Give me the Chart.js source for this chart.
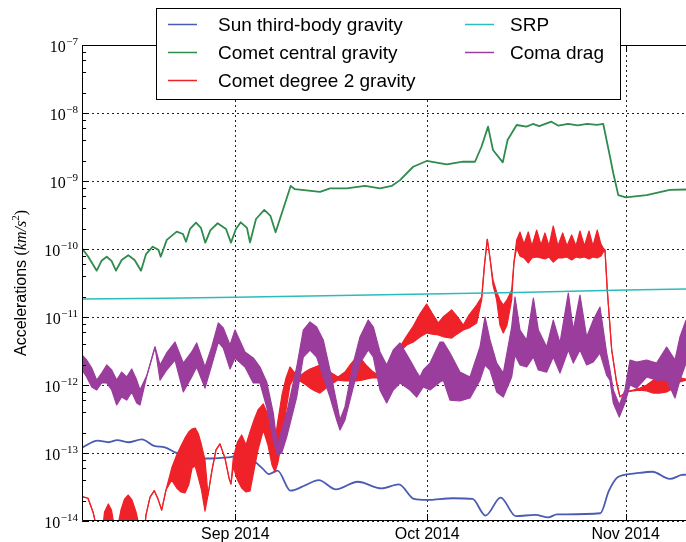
<!DOCTYPE html>
<html>
<head>
<meta charset="utf-8">
<script src="https://cdn.jsdelivr.net/npm/chart.js@4.4.0/dist/chart.umd.min.js"></script>
<style>
html, body { margin: 0; padding: 0; background: #fff; }
canvas { display: block; }
</style>
</head>
<body>
<canvas id="chart" width="686" height="542"></canvas>
<script>
// x values are days counted from 1 Aug 2014
const monthTicks = [31, 61, 92]
const monthLabels = ['Sep 2014', 'Oct 2014', 'Nov 2014']
const decadeExps = [-14, -13, -12, -11, -10, -9, -8, -7]
const minorSubs = [2, 4, 6, 8]

const blueDays = [7.05, 9.5, 11.21, 12.55, 14.25, 16.41, 18.32, 20.0, 21.69, 23.72, 27.11, 29.82, 31.18, 33.53, 35.24, 36.25, 37.6, 39.63, 42.0, 44.03, 46.74, 50.13, 53.85, 56.57, 58.93, 60.95, 65.02, 68.07, 70.1, 72.47, 74.83, 77.88, 79.91, 81.27, 88.03, 89.39, 90.75, 93.46, 96.18, 98.88, 100.77, 101.43]
const blueVals = [1.2e-13, 1.52e-13, 1.44e-13, 1.55e-13, 1.44e-13, 1.59e-13, 1.27e-13, 1.21e-13, 1.01e-13, 8.8e-14, 8.3e-14, 8.6e-14, 9.0e-14, 8.1e-14, 5.95e-14, 4.9e-14, 5.5e-14, 2.79e-14, 3.38e-14, 4.0e-14, 2.92e-14, 3.78e-14, 3.02e-14, 3.46e-14, 2.11e-14, 2.04e-14, 2.16e-14, 2.11e-14, 1.2e-14, 2.2e-14, 1.18e-14, 1.23e-14, 1.13e-14, 1.25e-14, 1.3e-14, 2.79e-14, 4.39e-14, 5.0e-14, 5.3e-14, 4.15e-14, 4.75e-14, 4.8e-14]

const greenDays = [7.05, 8.03, 9.35, 10.1, 10.91, 11.66, 12.36, 13.25, 14.28, 15.27, 16.27, 17.05, 18.1, 19.0, 19.35, 20.3, 21.85, 22.83, 23.3, 23.93, 24.86, 25.64, 26.32, 27.12, 28.25, 29.55, 30.33, 31.1, 31.85, 32.83, 33.3, 34.24, 35.53, 36.5, 37.3, 39.66, 40.33, 44.24, 45.8, 48.41, 51.27, 53.61, 55.44, 56.74, 58.8, 60.9, 64.04, 66.6, 68.46, 69.47, 70.5, 71.27, 72.8, 73.55, 74.97, 76.5, 77.5, 78.5, 80.4, 81.5, 83.0, 84.5, 86.0, 87.5, 88.5, 89.55, 90.07, 90.85, 92.0, 95.28, 98.9, 101.43]
const greenVals = [1.02e-10, 7.7e-11, 4.8e-11, 6.7e-11, 7.7e-11, 6.7e-11, 4.8e-11, 6.9e-11, 8.1e-11, 6.9e-11, 4.8e-11, 8.4e-11, 1.08e-10, 9.7e-11, 7.7e-11, 1.36e-10, 1.8e-10, 1.66e-10, 1.28e-10, 1.97e-10, 2.44e-10, 2.04e-10, 1.24e-10, 1.9e-10, 2.39e-10, 1.97e-10, 1.24e-10, 1.97e-10, 2.47e-10, 2.04e-10, 1.25e-10, 2.76e-10, 3.75e-10, 3.06e-10, 1.76e-10, 8.45e-10, 7.57e-10, 6.9e-10, 7.8e-10, 7.8e-10, 8.5e-10, 7.8e-10, 8.45e-10, 1.03e-9, 1.62e-9, 1.97e-9, 1.76e-9, 1.92e-9, 1.92e-9, 3.19e-9, 6.3e-9, 2.86e-9, 1.88e-9, 4.0e-9, 6.66e-9, 6.3e-9, 6.9e-9, 6.4e-9, 7.45e-9, 6.5e-9, 6.9e-9, 6.6e-9, 6.9e-9, 6.7e-9, 6.9e-9, 2.28e-9, 1.3e-9, 6.2e-10, 5.75e-10, 6.2e-10, 7.4e-10, 7.5e-10]

const srpDays = [7.05, 20, 31, 45, 61, 75, 92, 101.43]
const srpVals = [1.84e-11, 1.88e-11, 1.95e-11, 2.05e-11, 2.18e-11, 2.3e-11, 2.5e-11, 2.58e-11]

// degree 2 gravity oscillates fast: upper and lower envelope of the band
const redDays = [7.05, 7.99, 8.82, 9.39, 10.02, 10.57, 11.16, 11.66, 12.13, 12.6, 13.14, 13.69, 14.28, 14.86, 15.49, 16.11, 16.58, 17.05, 17.68, 18.35, 18.93, 19.5, 20.18, 21.07, 21.85, 22.52, 23.14, 23.72, 24.24, 24.74, 25.25, 25.72, 26.27, 26.74, 27.36, 27.99, 28.61, 29.39, 30.02, 30.33, 30.69, 31.35, 32.0, 32.68, 33.3, 33.93, 34.55, 35.38, 36.11, 36.74, 37.21, 37.68, 38.3, 38.93, 39.55, 40.18, 41.11, 41.89, 42.68, 43.46, 44.24, 45.02, 45.8, 47.05, 48.14, 48.93, 49.97, 50.8, 51.58, 52.36, 53.3, 54.39, 55.49, 56.27, 56.74, 57.78, 58.82, 59.86, 60.91, 61.74, 62.72, 63.61, 64.82, 65.64, 66.63, 67.52, 68.72, 69.5, 69.94, 70.38, 70.8, 71.27, 71.84, 72.36, 72.88, 73.46, 74.19, 74.55, 74.97, 75.49, 76.11, 76.78, 77.36, 78.1, 78.77, 79.39, 80.02, 80.69, 81.42, 82.16, 82.83, 83.56, 84.24, 84.86, 85.56, 86.27, 86.89, 87.56, 88.14, 88.5, 88.77, 89.13, 89.82, 90.6, 91.11, 92.16, 93.14, 94.24, 95.28, 96.32, 97.36, 98.41, 99.44, 100.49, 101.43]
const redHigh = [2.28e-14, 2.16e-14, 1.31e-14, 7.4e-15, 4.4e-15, 1.36e-14, 1.78e-14, 1.45e-14, 7.9e-15, 7.9e-15, 1.45e-14, 2.1e-14, 2.41e-14, 2.04e-14, 1.36e-14, 7.4e-15, 4.4e-15, 1.23e-14, 2.25e-14, 2.79e-14, 2.1e-14, 1.45e-14, 2.86e-14, 6.0e-14, 9.35e-14, 1.27e-13, 1.66e-13, 2.04e-13, 2.25e-13, 2.33e-13, 1.9e-13, 1.31e-13, 7.9e-14, 2.41e-14, 5.6e-14, 1.11e-13, 1.36e-13, 8.4e-14, 4.29e-14, 3.5e-14, 8.4e-14, 1.45e-13, 1.84e-13, 1.31e-13, 2.04e-13, 3.06e-13, 4.29e-13, 5.26e-13, 3.62e-13, 2.04e-13, 1.55e-13, 3.06e-13, 7.13e-13, 1.27e-12, 1.84e-12, 1.55e-12, 1.36e-12, 1.55e-12, 1.72e-12, 1.84e-12, 1.97e-12, 1.78e-12, 1.55e-12, 1.31e-12, 1.55e-12, 1.97e-12, 2.58e-12, 2.33e-12, 1.9e-12, 1.61e-12, 1.4e-12, 1.66e-12, 2.5e-12, 3.27e-12, 3.66e-12, 5.26e-12, 7.38e-12, 1.11e-11, 1.55e-11, 1.145e-11, 8.16e-12, 1.03e-11, 1.27e-11, 1.03e-11, 7.63e-12, 1.07e-11, 1.5e-11, 1.97e-11, 5.82e-11, 1.39e-10, 7.38e-11, 3.5e-11, 2.33e-11, 1.78e-11, 1.5e-11, 1.78e-11, 2.5e-11, 6.43e-11, 1.36e-10, 1.78e-10, 1.18e-10, 1.78e-10, 1.11e-10, 1.9e-10, 1.145e-10, 1.72e-10, 1.11e-10, 2.18e-10, 1.11e-10, 1.72e-10, 1.11e-10, 1.61e-10, 1.11e-10, 1.84e-10, 1.11e-10, 1.84e-10, 1.11e-10, 1.9e-10, 1.18e-10, 1.03e-10, 9.66e-11, 2.5e-11, 3.27e-12, 1.07e-12, 6.7e-13, 8.0e-13, 8.4e-13, 9.0e-13, 1.0e-12, 1.18e-12, 1.18e-12, 1.18e-12, 1.27e-12, 1.27e-12, 1.225e-12]
const redLow = [2.28e-14, 2.16e-14, 1.31e-14, 7.4e-15, 4.4e-15, 4.4e-15, 4.4e-15, 4.4e-15, 4.4e-15, 4.4e-15, 4.4e-15, 4.4e-15, 4.4e-15, 4.4e-15, 4.4e-15, 4.4e-15, 4.4e-15, 1.23e-14, 2.25e-14, 2.79e-14, 2.1e-14, 1.45e-14, 2.86e-14, 4.0e-14, 3.06e-14, 2.67e-14, 2.58e-14, 3.38e-14, 6.0e-14, 6.43e-14, 4.29e-14, 2.86e-14, 1.4e-14, 2.41e-14, 5.6e-14, 1.11e-13, 1.36e-13, 8.4e-14, 4.29e-14, 3.5e-14, 6.2e-14, 4.0e-14, 3.06e-14, 2.67e-14, 2.76e-14, 5.6e-14, 1.11e-13, 2.18e-13, 1.31e-13, 6.66e-14, 5.26e-14, 7.38e-14, 1.55e-13, 4.29e-13, 1.0e-12, 1.27e-12, 1.145e-12, 1.03e-12, 9.0e-13, 8.2e-13, 7.6e-13, 8.7e-13, 1.0e-12, 1.18e-12, 1.145e-12, 1.145e-12, 1.145e-12, 1.18e-12, 1.225e-12, 1.27e-12, 1.27e-12, 1.66e-12, 2.5e-12, 3.06e-12, 3.09e-12, 3.87e-12, 4.29e-12, 5.08e-12, 5.82e-12, 5.6e-12, 5.44e-12, 5.08e-12, 4.9e-12, 5.6e-12, 6.43e-12, 6.9e-12, 8.16e-12, 1.78e-11, 5.82e-11, 1.39e-10, 7.38e-11, 2.96e-11, 1.78e-11, 7.63e-12, 5.82e-12, 7.63e-12, 1.78e-11, 6.43e-11, 1.03e-10, 7.9e-11, 7.38e-11, 6.23e-11, 7.38e-11, 7.63e-11, 7.38e-11, 7.13e-11, 7.63e-11, 6.43e-11, 7.38e-11, 7.38e-11, 7.63e-11, 6.9e-11, 7.63e-11, 7.38e-11, 7.63e-11, 7.13e-11, 7.63e-11, 7.38e-11, 7.9e-11, 9.0e-11, 9.66e-11, 2.5e-11, 3.27e-12, 1.07e-12, 6.7e-13, 7.9e-13, 8.2e-13, 8.4e-13, 8.2e-13, 7.6e-13, 7.6e-13, 7.9e-13, 9.0e-13, 1.11e-12, 1.18e-12]

// coma drag: same idea, envelope of the noisy band
const comaDays = [7.05, 7.78, 8.57, 9.35, 10.13, 10.91, 11.69, 12.47, 13.25, 14.03, 14.82, 15.6, 16.11, 17.21, 18.46, 19.24, 20.28, 21.58, 22.88, 24.19, 24.97, 26.27, 27.32, 28.35, 29.13, 30.18, 30.96, 32.52, 33.82, 34.86, 35.91, 36.94, 37.57, 38.25, 39.03, 40.6, 41.63, 42.68, 43.72, 44.75, 45.8, 46.85, 47.36, 48.14, 49.44, 50.49, 51.78, 52.57, 53.61, 54.66, 55.69, 56.74, 58.3, 59.35, 59.86, 60.38, 61.43, 62.99, 63.5, 64.55, 66.11, 67.68, 69.24, 70.02, 70.8, 71.85, 72.88, 74.19, 74.71, 75.49, 76.53, 77.58, 78.36, 79.66, 80.69, 81.74, 83.04, 83.82, 84.86, 85.91, 86.94, 87.99, 89.03, 89.55, 90.07, 91.0, 91.89, 92.68, 93.72, 95.28, 96.84, 98.41, 99.71, 100.49, 101.43]
const comaHigh = [2.76e-12, 2.33e-12, 1.78e-12, 1.18e-12, 1.5e-12, 1.97e-12, 1.66e-12, 1.18e-12, 1.55e-12, 1.31e-12, 1.72e-12, 1.18e-12, 8.45e-13, 1.4e-12, 3.62e-12, 1.97e-12, 2.96e-12, 4.29e-12, 2.1e-12, 3.06e-12, 4.15e-12, 1.84e-12, 3.62e-12, 8.16e-12, 6.9e-12, 3.87e-12, 6.43e-12, 3.06e-12, 2.5e-12, 1.84e-12, 1.11e-12, 3.87e-13, 1.27e-13, 2.18e-13, 3.87e-13, 1.84e-12, 6.43e-12, 8.45e-12, 7.13e-12, 4.59e-12, 1.66e-12, 5.44e-13, 3.06e-13, 4.75e-13, 2.1e-12, 5.08e-12, 9.0e-12, 7.13e-12, 3.06e-12, 1.97e-12, 3.27e-12, 4.15e-12, 2.33e-12, 1.55e-12, 1.31e-12, 1.66e-12, 2.1e-12, 4.29e-12, 4.29e-12, 2.96e-12, 1.55e-12, 1.31e-12, 3.62e-12, 1.0e-11, 4.59e-12, 2.1e-12, 1.5e-12, 7.13e-12, 1.97e-11, 6.43e-12, 4.59e-12, 1.9e-11, 6.43e-12, 3.62e-12, 9.0e-12, 4.15e-12, 2.25e-11, 6.43e-12, 2.1e-11, 5.08e-12, 9.0e-12, 1.4e-11, 2.96e-12, 1.66e-12, 8.45e-13, 5.08e-13, 8.45e-13, 2.33e-12, 2.18e-12, 2.33e-12, 2.1e-12, 3.62e-12, 2.33e-12, 5.08e-12, 9.0e-12]
const comaLow = [1.66e-12, 1.31e-12, 9.35e-13, 8.45e-13, 1.07e-12, 1.07e-12, 8.45e-13, 5.08e-13, 6.66e-13, 6.0e-13, 7.9e-13, 5.44e-13, 5.08e-13, 1.4e-12, 3.62e-12, 1.18e-12, 1.66e-12, 2.33e-12, 7.9e-13, 1.31e-12, 1.84e-12, 9.0e-13, 1.97e-12, 4.29e-12, 3.5e-12, 1.72e-12, 2.5e-12, 1.84e-12, 1.07e-12, 1.07e-12, 4.75e-13, 1.55e-13, 9.3e-14, 1.0e-13, 1.72e-13, 6.66e-13, 2.58e-12, 3.27e-12, 2.58e-12, 1.31e-12, 6.66e-13, 3.06e-13, 2.18e-13, 3.06e-13, 9.35e-13, 2.1e-12, 3.27e-12, 2.58e-12, 8.45e-13, 5.44e-13, 8.45e-13, 1.07e-12, 8.45e-13, 6.66e-13, 7.9e-13, 9.35e-13, 8.45e-13, 1.11e-12, 1.18e-12, 6.0e-13, 5.82e-13, 6.43e-13, 1.18e-12, 1.97e-12, 1.66e-12, 7.9e-13, 6.66e-13, 1.31e-12, 2.76e-12, 1.97e-12, 1.84e-12, 2.58e-12, 1.66e-12, 1.55e-12, 2.58e-12, 1.5e-12, 3.27e-12, 2.1e-12, 3.27e-12, 1.97e-12, 2.18e-12, 2.96e-12, 1.4e-12, 1.18e-12, 5.44e-13, 3.38e-13, 5.44e-13, 1.0e-12, 9.0e-13, 1.31e-12, 1.18e-12, 1.18e-12, 6.43e-13, 1.18e-12, 2.1e-12]

const seriesNames = ['Sun third-body gravity', 'Comet central gravity', 'Comet degree 2 gravity', 'SRP', 'Coma drag']
const seriesColors = ['#4a5bb4', '#2f8c4c', '#ee2228', '#2bbcbc', '#9a3d9c']

const pts = (xs, ys) => xs.map((x, i) => ({ x: x, y: ys[i] }))

function drawYLabel(ctx, exp, y) {
  const sup = '\u2212' + Math.abs(exp)
  ctx.textAlign = 'right'
  ctx.textBaseline = 'alphabetic'
  ctx.font = '11px "Liberation Serif"'
  const w = ctx.measureText(sup).width
  ctx.fillText(sup, 78, y - 0.5)
  ctx.font = '16px "Liberation Serif"'
  ctx.fillText('10', 78 - w - 0.5, y + 6.5)
}

const plotDeco = {
  id: 'plotDeco',
  beforeDatasetsDraw(chart) {
    const { ctx, chartArea: a, scales } = chart
    ctx.save()
    ctx.strokeStyle = '#222'
    ctx.lineWidth = 1
    ctx.setLineDash([2, 3])
    decadeExps.forEach(e => {
      const y = Math.round(scales.y.getPixelForValue(Math.pow(10, e))) + 0.5
      ctx.beginPath(); ctx.moveTo(a.left, y); ctx.lineTo(a.right, y); ctx.stroke()
    })
    monthTicks.forEach(d => {
      const x = Math.round(scales.x.getPixelForValue(d)) + 0.5
      ctx.beginPath(); ctx.moveTo(x, a.top); ctx.lineTo(x, a.bottom); ctx.stroke()
    })
    ctx.restore()
  },
  afterDatasetsDraw(chart) {
    const { ctx, chartArea: a, scales } = chart
    ctx.save()
    // frame
    ctx.strokeStyle = '#000'
    ctx.lineWidth = 1
    ctx.beginPath()
    ctx.moveTo(a.right, a.top + 0.5); ctx.lineTo(a.left + 0.5, a.top + 0.5)
    ctx.lineTo(a.left + 0.5, a.bottom - 0.5); ctx.lineTo(a.right, a.bottom - 0.5)
    ctx.stroke()
    // y ticks, pointing inwards
    ctx.beginPath()
    decadeExps.forEach((e, i) => {
      const y = Math.round(scales.y.getPixelForValue(Math.pow(10, e))) + 0.5
      ctx.moveTo(a.left, y); ctx.lineTo(a.left + 7, y)
      if (i < decadeExps.length - 1) {
        minorSubs.forEach(s => {
          const ym = Math.round(scales.y.getPixelForValue(s * Math.pow(10, e))) + 0.5
          ctx.moveTo(a.left, ym); ctx.lineTo(a.left + 4, ym)
        })
      }
    })
    monthTicks.forEach(d => {
      const x = Math.round(scales.x.getPixelForValue(d)) + 0.5
      ctx.moveTo(x, a.bottom); ctx.lineTo(x, a.bottom - 7)
      ctx.moveTo(x, a.top); ctx.lineTo(x, a.top + 7)
    })
    ctx.stroke()
    // tick labels
    ctx.fillStyle = '#000'
    decadeExps.forEach(e => drawYLabel(ctx, e, scales.y.getPixelForValue(Math.pow(10, e))))
    ctx.font = '16px "Liberation Sans"'
    ctx.textAlign = 'center'
    ctx.textBaseline = 'alphabetic'
    monthTicks.forEach((d, i) => ctx.fillText(monthLabels[i], scales.x.getPixelForValue(d), 539))
    // y axis title
    ctx.save()
    ctx.translate(26, (a.top + a.bottom) / 2)
    ctx.rotate(-Math.PI / 2)
    const parts = [
      ['Accelerations ', '16px "Liberation Sans"', 0],
      ['(', '16px "Liberation Serif"', 0],
      ['km/s', 'italic 16px "Liberation Serif"', 0],
      ['2', '11px "Liberation Serif"', -7],
      [')', '16px "Liberation Serif"', 0]
    ]
    let total = 0
    parts.forEach(p => { ctx.font = p[1]; total += ctx.measureText(p[0]).width })
    let x = -total / 2
    ctx.textAlign = 'left'
    parts.forEach(p => { ctx.font = p[1]; ctx.fillText(p[0], x, p[2]); x += ctx.measureText(p[0]).width })
    ctx.restore()
    // legend box
    ctx.fillStyle = '#fff'
    ctx.fillRect(156, 8, 464, 91)
    ctx.strokeStyle = '#000'
    ctx.strokeRect(156.5, 8.5, 464, 91)
    ctx.font = '19px "Liberation Sans"'
    ctx.textBaseline = 'middle'
    ctx.textAlign = 'left'
    seriesNames.forEach((name, i) => {
      const col = i < 3 ? 0 : 1
      const row = i < 3 ? i : i - 3
      const lx = col === 0 ? 168 : 465
      const tx = col === 0 ? 218 : 510
      const y = 24.5 + row * 28
      ctx.strokeStyle = seriesColors[i]
      ctx.lineWidth = 1.5
      ctx.beginPath(); ctx.moveTo(lx, y); ctx.lineTo(lx + 29, y); ctx.stroke()
      ctx.fillStyle = '#000'
      ctx.fillText(name, tx, y + 1)
    })
    ctx.restore()
  }
}

const line = (data, color, width, extra) => Object.assign({
  data: data, borderColor: color, backgroundColor: color, borderWidth: width,
  pointRadius: 0, tension: 0, fill: false, borderJoinStyle: 'round'
}, extra || {})

new Chart(document.getElementById('chart'), {
  type: 'line',
  data: {
    datasets: [
      line(pts(blueDays, blueVals), seriesColors[0], 1.8, { order: 5, cubicInterpolationMode: 'monotone' }),
      line(pts(greenDays, greenVals), seriesColors[1], 1.8, { order: 4 }),
      line(pts(redDays, redHigh), seriesColors[2], 1.2, { order: 3 }),
      line(pts(redDays, redLow), seriesColors[2], 1.2, { order: 3, fill: '-1' }),
      line(pts(srpDays, srpVals), seriesColors[3], 1.5, { order: 2 }),
      line(pts(comaDays, comaHigh), seriesColors[4], 1.2, { order: 1 }),
      line(pts(comaDays, comaLow), seriesColors[4], 1.2, { order: 1, fill: '-1' })
    ]
  },
  options: {
    responsive: false,
    animation: false,
    devicePixelRatio: 1,
    layout: { padding: { left: 82, top: 45, right: 0, bottom: 21 } },
    scales: {
      x: { type: 'linear', min: 7.05, max: 101.43, display: false },
      y: { type: 'logarithmic', min: 1e-14, max: 1e-7, display: false }
    },
    plugins: { legend: { display: false }, tooltip: { enabled: false } }
  },
  plugins: [plotDeco]
})
</script>
</body>
</html>
